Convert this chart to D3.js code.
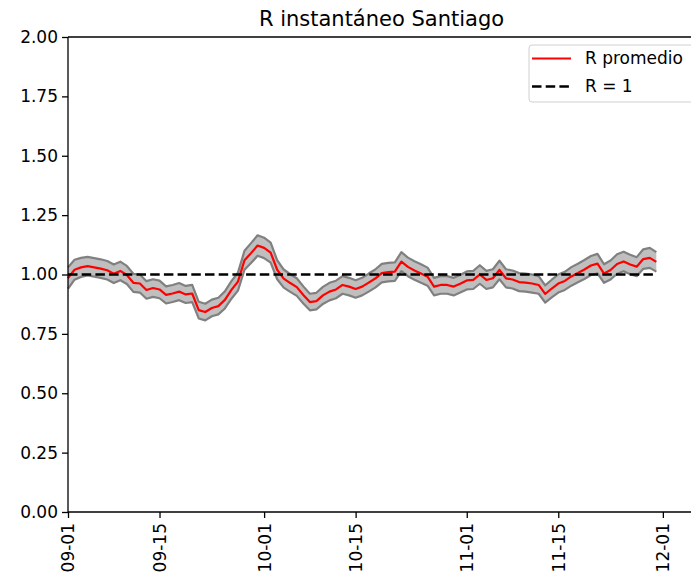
<!DOCTYPE html>
<html>
<head>
<meta charset="utf-8">
<script src="https://cdn.jsdelivr.net/npm/d3@7"></script>
<style>
  html, body { margin: 0; padding: 0; background: #fff; }
  svg { display: block; }
  text { font-family: "DejaVu Sans", sans-serif; fill: #000; }
</style>
</head>
<body>
<svg id="chart" width="691" height="577"></svg>
<script>
// Daily instantaneous R estimate for Santiago, starting 2020-09-01
const startDate = "2020-09-01";
const rMean = [
  0.985, 1.020, 1.030, 1.035, 1.030, 1.025, 1.018, 1.003, 1.015, 0.998,
  0.965, 0.962, 0.935, 0.943, 0.937, 0.914, 0.920, 0.928, 0.916, 0.920,
  0.850, 0.842, 0.859, 0.867, 0.893, 0.935, 0.970, 1.060, 1.090, 1.122,
  1.112, 1.092, 1.020, 0.983, 0.964, 0.947, 0.914, 0.884, 0.888, 0.912,
  0.928, 0.937, 0.956, 0.949, 0.939, 0.949, 0.966, 0.983, 1.006, 1.010,
  1.012, 1.054, 1.032, 1.017, 1.004, 0.991, 0.949, 0.956, 0.956, 0.949,
  0.961, 0.975, 0.977, 1.000, 0.977, 0.984, 1.019, 0.984, 0.979, 0.968,
  0.966, 0.962, 0.956, 0.918, 0.941, 0.962, 0.973, 0.992, 1.006, 1.021,
  1.038, 1.046, 1.004, 1.019, 1.044, 1.055, 1.042, 1.033, 1.065, 1.070,
  1.053
];
const rUpper = [
  1.030, 1.062, 1.070, 1.074, 1.069, 1.064, 1.057, 1.042, 1.054, 1.036,
  1.003, 1.000, 0.972, 0.980, 0.974, 0.950, 0.956, 0.964, 0.952, 0.956,
  0.885, 0.877, 0.894, 0.902, 0.929, 0.972, 1.008, 1.100, 1.132, 1.165,
  1.155, 1.134, 1.060, 1.021, 1.001, 0.984, 0.950, 0.919, 0.923, 0.948,
  0.965, 0.974, 0.993, 0.986, 0.976, 0.986, 1.004, 1.021, 1.045, 1.049,
  1.051, 1.094, 1.071, 1.056, 1.043, 1.029, 0.986, 0.993, 0.993, 0.986,
  0.998, 1.013, 1.015, 1.039, 1.015, 1.022, 1.058, 1.022, 1.017, 1.006,
  1.004, 1.000, 0.993, 0.954, 0.978, 1.000, 1.011, 1.031, 1.045, 1.061,
  1.078, 1.087, 1.043, 1.059, 1.085, 1.096, 1.083, 1.073, 1.106, 1.112,
  1.094
];
const rLower = [
  0.940, 0.978, 0.990, 0.996, 0.991, 0.986, 0.979, 0.964, 0.976, 0.960,
  0.927, 0.924, 0.898, 0.906, 0.900, 0.878, 0.884, 0.892, 0.880, 0.884,
  0.815, 0.807, 0.824, 0.832, 0.857, 0.898, 0.932, 1.020, 1.048, 1.079,
  1.069, 1.050, 0.980, 0.945, 0.927, 0.910, 0.878, 0.849, 0.853, 0.876,
  0.891, 0.900, 0.919, 0.912, 0.902, 0.912, 0.928, 0.945, 0.967, 0.971,
  0.973, 1.014, 0.993, 0.978, 0.965, 0.953, 0.912, 0.919, 0.919, 0.912,
  0.924, 0.937, 0.939, 0.961, 0.939, 0.946, 0.980, 0.946, 0.941, 0.930,
  0.928, 0.924, 0.919, 0.882, 0.904, 0.924, 0.935, 0.953, 0.967, 0.981,
  0.998, 1.005, 0.965, 0.979, 1.003, 1.014, 1.001, 0.993, 1.024, 1.028,
  1.012
];
const xTickDates = ["2020-09-01", "2020-09-15", "2020-10-01", "2020-10-15", "2020-11-01", "2020-11-15", "2020-12-01"];
const xTickLabels = ["09-01", "09-15", "10-01", "10-15", "11-01", "11-15", "12-01"];
const yTicks = [0, 0.25, 0.5, 0.75, 1.0, 1.25, 1.5, 1.75, 2.0];
const refValue = 1;
const titleText = "R instantáneo Santiago";
const legendLabels = ["R promedio", "R = 1"];

const parse = d3.utcParse("%Y-%m-%d");
const t0 = parse(startDate);
const rows = rMean.map((v, i) => ({
  date: d3.utcDay.offset(t0, i),
  mean: v,
  lo: rLower[i],
  hi: rUpper[i]
}));

const svg = d3.select("#chart");
const plotL = 68, plotR = 695, plotT = 37, plotB = 512;

const x = d3.scaleUtc()
  .domain([t0, d3.utcHour.offset(t0, Math.round(95.9 * 24))])
  .range([plotL, plotR]);
const y = d3.scaleLinear().domain([0, 2]).range([plotB, plotT]);

// Title
svg.append("text")
  .attr("x", (plotL + plotR) / 2)
  .attr("y", 26)
  .attr("text-anchor", "middle")
  .style("font-size", "21px")
  .text(titleText);

// Confidence band
const area = d3.area()
  .x(d => x(d.date))
  .y0(d => y(d.lo))
  .y1(d => y(d.hi));
svg.append("path")
  .datum(rows)
  .attr("d", area)
  .attr("fill", "#bfbfbf")
  .attr("stroke", "none");

const edge = key => d3.line().x(d => x(d.date)).y(d => y(d[key]));
["lo", "hi"].forEach(k => {
  svg.append("path")
    .datum(rows)
    .attr("d", edge(k))
    .attr("fill", "none")
    .attr("stroke", "#808080")
    .attr("stroke-width", 2.2)
    .attr("stroke-linejoin", "round");
});

// Mean R
svg.append("path")
  .datum(rows)
  .attr("d", edge("mean"))
  .attr("fill", "none")
  .attr("stroke", "#ff0000")
  .attr("stroke-width", 2.2)
  .attr("stroke-linejoin", "round");

// Reference line R = 1
svg.append("line")
  .attr("x1", x(rows[0].date))
  .attr("x2", x(rows[rows.length - 1].date))
  .attr("y1", y(refValue))
  .attr("y2", y(refValue))
  .attr("stroke", "#000")
  .attr("stroke-width", 2.4)
  .attr("stroke-dasharray", "9.5,4.2");

// Axes
const yAxis = d3.axisLeft(y)
  .tickValues(yTicks)
  .tickFormat(d3.format(".2f"))
  .tickSize(6)
  .tickPadding(4);
const gy = svg.append("g").attr("transform", `translate(${plotL},0)`).call(yAxis);
gy.select(".domain").remove();
gy.selectAll("line").attr("stroke", "#000").attr("stroke-width", 1.3);
gy.selectAll("text")
  .style("font-size", "17px")
  .style("font-family", "DejaVu Sans, sans-serif")
  .attr("fill", "#000");

const xAxis = d3.axisBottom(x)
  .tickValues(xTickDates.map(parse))
  .tickFormat((d, i) => xTickLabels[i])
  .tickSize(6)
  .tickPadding(0);
const gx = svg.append("g").attr("transform", `translate(0,${plotB})`).call(xAxis);
gx.select(".domain").remove();
gx.selectAll("line").attr("stroke", "#000").attr("stroke-width", 1.3);
gx.selectAll("text")
  .style("font-size", "17px")
  .style("font-family", "DejaVu Sans, sans-serif")
  .attr("fill", "#000")
  .attr("text-anchor", "end")
  .attr("dy", "0.35em")
  .attr("y", 0)
  .attr("transform", "translate(0,11) rotate(-90)");

// Spines
const spine = svg.append("g").attr("stroke", "#000").attr("stroke-width", 1.3).attr("fill", "none");
spine.append("line").attr("x1", plotL).attr("x2", plotL).attr("y1", plotT).attr("y2", plotB);
spine.append("line").attr("x1", plotL).attr("x2", plotR).attr("y1", plotB).attr("y2", plotB);
spine.append("line").attr("x1", plotL).attr("x2", plotR).attr("y1", plotT).attr("y2", plotT);
spine.append("line").attr("x1", plotR).attr("x2", plotR).attr("y1", plotT).attr("y2", plotB);

// Legend (runs past the right edge of the canvas)
const lg = svg.append("g");
lg.append("rect")
  .attr("x", 529).attr("y", 45)
  .attr("width", 175).attr("height", 57)
  .attr("rx", 3)
  .attr("fill", "#fff").attr("fill-opacity", 0.8)
  .attr("stroke", "#d0d0d0").attr("stroke-width", 1);
const legendStyles = [
  { stroke: "#ff0000", dash: null, width: 2.2 },
  { stroke: "#000", dash: "9.5,4.2", width: 2.4 }
];
legendLabels.forEach((lab, i) => {
  const yy = 58.5 + i * 28;
  lg.append("line")
    .attr("x1", 532).attr("x2", 571)
    .attr("y1", yy).attr("y2", yy)
    .attr("stroke", legendStyles[i].stroke)
    .attr("stroke-width", legendStyles[i].width)
    .attr("stroke-dasharray", legendStyles[i].dash);
  lg.append("text")
    .attr("x", 585).attr("y", yy)
    .attr("dy", "0.35em")
    .style("font-size", "17px")
    .text(lab);
});
</script>
</body>
</html>
